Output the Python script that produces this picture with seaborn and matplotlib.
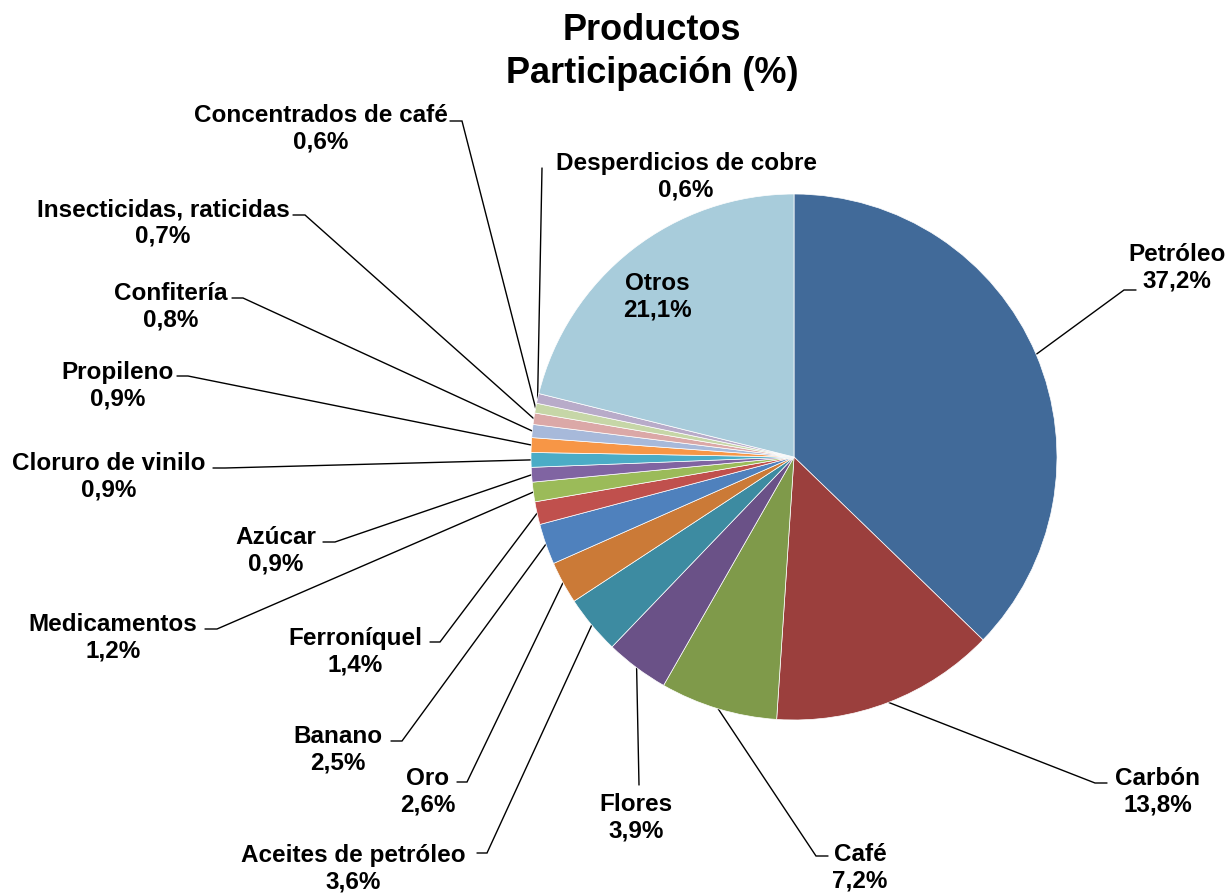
import numpy as np
import seaborn as sns
import matplotlib
matplotlib.use("Agg")
from matplotlib import pyplot as plt

# data (shares in %), clockwise from 12 o'clock
products = ["Petróleo", "Carbón", "Café", "Flores", "Aceites de petróleo", "Oro",
            "Banano", "Ferroníquel", "Medicamentos", "Azúcar", "Cloruro de vinilo",
            "Propileno", "Confitería", "Insecticidas, raticidas",
            "Concentrados de café", "Desperdicios de cobre", "Otros"]
shares = [37.2, 13.8, 7.2, 3.9, 3.6, 2.6, 2.5, 1.4, 1.2, 0.9, 0.9, 0.9, 0.8, 0.7,
          0.6, 0.6, 21.1]
colors = ["#416A99", "#9B3F3D", "#7F9A4A", "#6A5187", "#3D8BA1", "#CB7A37",
          "#4F81BD", "#C0504D", "#9BBB59", "#8064A2", "#4BACC6", "#F79646",
          "#A7B9DA", "#DBA8A7", "#C6D6A7", "#B8ABC9", "#A8CCDB"]

# layout (pixel coords of the 1230x895 canvas, y downwards)
pie_center = (794, 458)
pie_radius = 263
label_xy = [(1177, 268), (1158, 792), (860, 868), (636, 818), (353, 869), (428, 792),
            (338, 750), (355, 652), (113, 638), (276, 551), (109, 477), (118, 386),
            (171, 307), (163, 223), (321, 129), (686, 177), (657, 297)]
# where the leader line leaves the label: (x, y, short horizontal tick length)
leader_start = [(1136, 291, -12), (1107, 784, -12), (828, 857, -12), (639, 786, 0),
                (477, 854, 10), (457, 783, 10), (391, 742, 11), (430, 643, 10),
                (205, 630, 12), (323, 543, 12), (213, 469, 12), (177, 377, 11),
                (232, 299, 11), (293, 216, 12), (450, 122, 12), (542, 169, 0), None]

sns.set_style("white")
plt.rcParams["font.family"] = ["Liberation Sans", "DejaVu Sans"]
plt.rcParams["text.color"] = "black"
pal = sns.color_palette(colors)

fig = plt.figure(figsize=(12.3, 8.95), dpi=100)
ax = fig.add_axes([0, 0, 1, 1])

# y axis is flipped below, so counterclock=True draws clockwise on screen
wedges, _ = ax.pie(shares, colors=pal, startangle=-90, counterclock=True,
                   center=pie_center, radius=pie_radius,
                   wedgeprops=dict(edgecolor="white", linewidth=0.5))
ax.set_xlim(0, 1230)
ax.set_ylim(895, 0)
ax.set_aspect("equal")
ax.axis("off")

for name, val, w, (tx, ty), ls in zip(products, shares, wedges, label_xy, leader_start):
    txt = f"{name}\n{val:.1f}".replace(".", ",") + "%"
    ax.text(tx, ty, txt, ha="center", va="center", multialignment="center",
            fontsize=17.5, fontweight="bold", linespacing=1.2, color="black")
    if ls is None:
        continue
    mid = np.deg2rad((w.theta1 + w.theta2) / 2)
    ex = pie_center[0] + pie_radius * np.cos(mid)
    ey = pie_center[1] + pie_radius * np.sin(mid)
    x0, y0, d = ls
    ax.plot([x0, x0 + d, ex], [y0, y0, ey], color="black", lw=1.0,
            solid_joinstyle="miter", zorder=0)

ax.text(652, 30, "Productos", ha="center", va="center", fontsize=26,
        fontweight="bold", color="black")
ax.text(652, 73, "Participación (%)", ha="center", va="center", fontsize=26,
        fontweight="bold", color="black")

fig.savefig("out.png", dpi=100)
